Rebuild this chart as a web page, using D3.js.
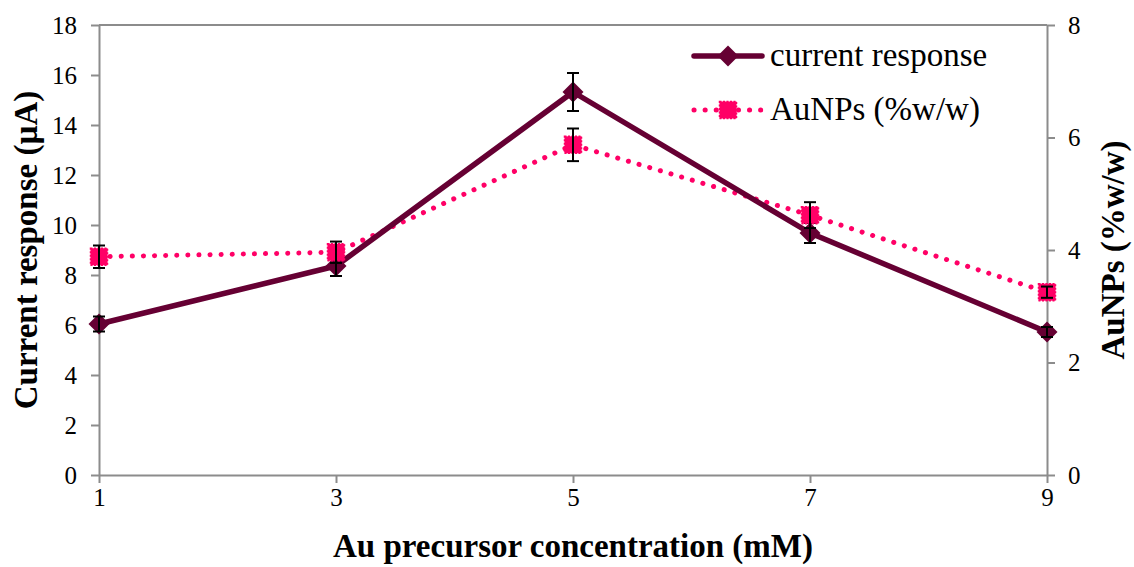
<!DOCTYPE html>
<html>
<head>
<meta charset="utf-8">
<script src="https://cdn.jsdelivr.net/npm/d3@7"></script>
<style>
  html, body { margin: 0; padding: 0; background: #fff; }
  svg { display: block; }
  svg text { font-family: "Liberation Serif", "Times New Roman", serif; }
</style>
</head>
<body>
<svg id="chart" width="1134" height="567"></svg>
<script>
// Au precursor concentration (mM)
const concentrations = [1, 3, 5, 7, 9];
// Current response (µA) and its error
const currentResponse = [6.04, 8.36, 15.32, 9.68, 5.72];
const currentError = [0.3, 0.4, 0.76, 0.4, 0.2];
// AuNPs loading (%w/w) and its error
const aunps = [3.88, 3.96, 5.87, 4.62, 3.25];
const aunpsError = [0.2, 0.19, 0.29, 0.23, 0.1];

const xTicks = [1, 3, 5, 7, 9];
const leftTicks = [0, 2, 4, 6, 8, 10, 12, 14, 16, 18];
const rightTicks = [0, 2, 4, 6, 8];

const darkColor = "#660033";
const pinkColor = "#ff0066";
const axisColor = "#8c8c8c";
const serif = "Liberation Serif, Times New Roman, serif";

const svg = d3.select("#chart");
const plotLeft = 99, plotRight = 1047, plotTop = 25, plotBottom = 475;

const x = d3.scaleLinear().domain([1, 9]).range([plotLeft, plotRight]);
const yL = d3.scaleLinear().domain([0, 18]).range([plotBottom, plotTop]);
const yR = d3.scaleLinear().domain([0, 8]).range([plotBottom, plotTop]);

// top border of plot area
svg.append("line").attr("x1", plotLeft).attr("x2", plotRight).attr("y1", plotTop).attr("y2", plotTop)
  .attr("stroke", axisColor).attr("stroke-width", 2);

function styleAxis(g) {
  g.select(".domain").attr("stroke", axisColor).attr("stroke-width", 2);
  g.selectAll(".tick line").attr("stroke", axisColor).attr("stroke-width", 2);
  g.selectAll(".tick text").attr("fill", "#000").attr("font-size", 25).attr("font-family", serif);
}

svg.append("g").attr("transform", `translate(0,${plotBottom})`)
  .call(d3.axisBottom(x).tickValues(xTicks).tickSize(8).tickSizeOuter(0).tickPadding(5).tickFormat(d3.format("d")))
  .call(styleAxis);

svg.append("g").attr("transform", `translate(${plotLeft},0)`)
  .call(d3.axisLeft(yL).tickValues(leftTicks).tickSize(8).tickSizeOuter(0).tickPadding(14).tickFormat(d3.format("d")))
  .call(styleAxis);

svg.append("g").attr("transform", `translate(${plotRight},0)`)
  .call(d3.axisRight(yR).tickValues(rightTicks).tickSize(8).tickSizeOuter(0).tickPadding(13).tickFormat(d3.format("d")))
  .call(styleAxis);

// Axis titles
svg.append("text").attr("x", 573).attr("y", 557)
  .attr("text-anchor", "middle").attr("font-size", 33).attr("font-weight", "bold").attr("font-family", serif)
  .text("Au precursor concentration (mM)");

svg.append("text").attr("transform", `translate(37,250) rotate(-90)`)
  .attr("text-anchor", "middle").attr("font-size", 33).attr("font-weight", "bold").attr("font-family", serif)
  .text("Current response (µA)");

svg.append("text").attr("transform", `translate(1124,250) rotate(-90)`)
  .attr("text-anchor", "middle").attr("font-size", 33).attr("font-weight", "bold").attr("font-family", serif)
  .text("AuNPs (%w/w)");

const currentData = concentrations.map((c, i) => ({ x: c, y: currentResponse[i], e: currentError[i] }));
const aunpData = concentrations.map((c, i) => ({ x: c, y: aunps[i], e: aunpsError[i] }));

// AuNPs dotted line
svg.append("path").datum(aunpData)
  .attr("d", d3.line().x(d => x(d.x)).y(d => yR(d.y)))
  .attr("fill", "none").attr("stroke", pinkColor).attr("stroke-width", 5)
  .attr("stroke-linecap", "round").attr("stroke-dasharray", "0.1 11");

// Current response solid line
svg.append("path").datum(currentData)
  .attr("d", d3.line().x(d => x(d.x)).y(d => yL(d.y)))
  .attr("fill", "none").attr("stroke", darkColor).attr("stroke-width", 5.5)
  .attr("stroke-linejoin", "round");

// Error bars
function errorBars(data, yScale) {
  const g = svg.append("g").attr("stroke", "#000").attr("stroke-width", 2);
  data.forEach(d => {
    const cx = x(d.x), y1 = yScale(d.y + d.e), y2 = yScale(d.y - d.e);
    g.append("line").attr("x1", cx).attr("x2", cx).attr("y1", y1).attr("y2", y2);
    g.append("line").attr("x1", cx - 6).attr("x2", cx + 6).attr("y1", y1).attr("y2", y1);
    g.append("line").attr("x1", cx - 6).attr("x2", cx + 6).attr("y1", y2).attr("y2", y2);
  });
}

// Square markers for AuNPs
function drawSquare(g, cx, cy) {
  g.append("rect").attr("x", cx - 8.5).attr("y", cy - 8.5).attr("width", 17).attr("height", 17)
    .attr("fill", pinkColor).attr("stroke", pinkColor).attr("stroke-width", 1.5)
    .attr("stroke-dasharray", "2 1.5");
}
// Diamond markers for current response
function drawDiamond(g, cx, cy) {
  const s = 10.5;
  g.append("path").attr("d", `M${cx},${cy - s}L${cx + s},${cy}L${cx},${cy + s}L${cx - s},${cy}Z`)
    .attr("fill", darkColor);
}

const currentMarks = svg.append("g");
currentData.forEach(d => drawDiamond(currentMarks, x(d.x), yL(d.y)));
errorBars(currentData, yL);

const aunpMarks = svg.append("g");
aunpData.forEach(d => drawSquare(aunpMarks, x(d.x), yR(d.y)));
errorBars(aunpData, yR);

// Legend
const legend = svg.append("g");
legend.append("line").attr("x1", 694).attr("x2", 762).attr("y1", 56).attr("y2", 56)
  .attr("stroke", darkColor).attr("stroke-width", 5.5).attr("stroke-linecap", "round");
drawDiamond(legend, 728, 56);
legend.append("text").attr("x", 770).attr("y", 66).attr("font-size", 33).attr("font-family", serif)
  .text("current response");

legend.append("line").attr("x1", 694).attr("x2", 762).attr("y1", 110).attr("y2", 110)
  .attr("stroke", pinkColor).attr("stroke-width", 5).attr("stroke-linecap", "round")
  .attr("stroke-dasharray", "0.1 11");
drawSquare(legend, 728, 110);
legend.append("text").attr("x", 770).attr("y", 120).attr("font-size", 33).attr("font-family", serif)
  .text("AuNPs (%w/w)");
</script>
</body>
</html>
